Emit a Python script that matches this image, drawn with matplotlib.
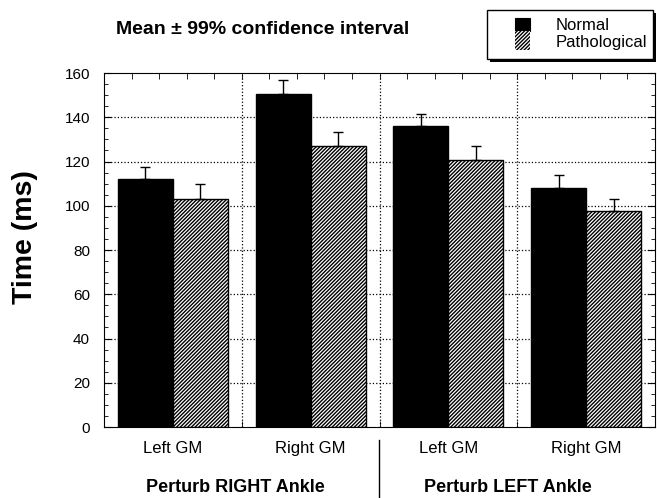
import matplotlib.pyplot as plt
import numpy as np
from matplotlib.patches import Rectangle

plt.rcParams['font.family'] = ['Liberation Sans', 'DejaVu Sans']
plt.rcParams['hatch.linewidth'] = 1.0

# data
muscles = ['Left GM', 'Right GM', 'Left GM', 'Right GM']
groups = ['Perturb RIGHT Ankle', 'Perturb LEFT Ankle']
series = ['Normal', 'Pathological']
normal_mean = [112, 150.5, 136, 108]
normal_ci = [5.5, 6.5, 5.5, 6.0]
patho_mean = [103, 127, 120.5, 97.5]
patho_ci = [7.0, 6.5, 6.5, 5.5]

HATCH = '/' * 9
W, H = 657, 498


def fx(px):
    return px / W


def fy(py):
    return 1 - py / H


x = np.arange(len(muscles))
w = 0.4

fig = plt.figure(figsize=(6.57, 4.98), dpi=100)
ax = fig.add_axes([fx(104), fy(427), fx(655) - fx(104), fy(73) - fy(427)])

err_kw = dict(elinewidth=1, capthick=1, ecolor='black')
ax.bar(x - w / 2, normal_mean, w, color='black', edgecolor='black', linewidth=1,
       yerr=[np.zeros(4), normal_ci], capsize=3.5, error_kw=err_kw, zorder=3)
ax.bar(x + w / 2, patho_mean, w, color='white', edgecolor='black', linewidth=1, hatch=HATCH,
       yerr=[np.zeros(4), patho_ci], capsize=3.5, error_kw=err_kw, zorder=3)

ax.set_xlim(-0.5, 3.5)
ax.set_ylim(0, 160)
ax.set_yticks(np.arange(0, 161, 20))
ax.set_yticks(np.arange(0, 161, 5), minor=True)
ax.set_xticks([])
ax.set_xticks(np.arange(-0.3, 3.5, 0.2), minor=True)
ax.tick_params(axis='both', which='both', direction='in', top=True, right=True)
ax.tick_params(axis='y', which='major', length=5, labelsize=11, pad=10)
ax.tick_params(axis='y', which='minor', length=3)
ax.tick_params(axis='x', which='minor', length=4)

# dotted grid
for yv in range(20, 160, 20):
    ax.axhline(yv, color='black', linestyle=':', linewidth=0.9, zorder=1)
for xv in [0.5, 1.5, 2.5]:
    ax.axvline(xv, color='black', linestyle=':', linewidth=0.9, zorder=1)

ax.set_ylabel('Time (ms)', fontsize=20.5, fontweight='bold')
ax.yaxis.set_label_coords(-0.12, 0.537)

for xi, lab in zip(x, muscles):
    ax.text(xi, -0.062, lab, transform=ax.get_xaxis_transform(), ha='center', va='center', fontsize=12)

fig.text(fx(235), fy(487), groups[0], ha='center', va='center', fontsize=13, fontweight='bold')
fig.text(fx(508), fy(487), groups[1], ha='center', va='center', fontsize=13, fontweight='bold')
fig.add_artist(plt.Line2D([fx(379), fx(379)], [fy(440), fy(497)], color='black', linewidth=1))

fig.text(fx(263), fy(30), 'Mean \u00b1 99% confidence interval', ha='center', va='center',
         fontsize=14, fontweight='bold')

# legend box drawn by hand to match the boxed, shadowed original
fig.add_artist(Rectangle((fx(490), fy(62)), fx(166), fy(10) - fy(59), transform=fig.transFigure,
                         facecolor='black', edgecolor='black', linewidth=0))
fig.add_artist(Rectangle((fx(487), fy(59)), fx(166), fy(10) - fy(59), transform=fig.transFigure,
                         facecolor='white', edgecolor='black', linewidth=1))
fig.add_artist(Rectangle((fx(515), fy(31)), fx(15), fy(18) - fy(31), transform=fig.transFigure,
                         facecolor='black', edgecolor='black', linewidth=0.8))
fig.add_artist(Rectangle((fx(515), fy(50)), fx(15), fy(31) - fy(50), transform=fig.transFigure,
                         facecolor='white', edgecolor='black', linewidth=0, hatch=HATCH))
fig.text(fx(556), fy(25), series[0], ha='left', va='center', fontsize=12)
fig.text(fx(556), fy(42), series[1], ha='left', va='center', fontsize=12)

fig.savefig('out.png', dpi=100)
